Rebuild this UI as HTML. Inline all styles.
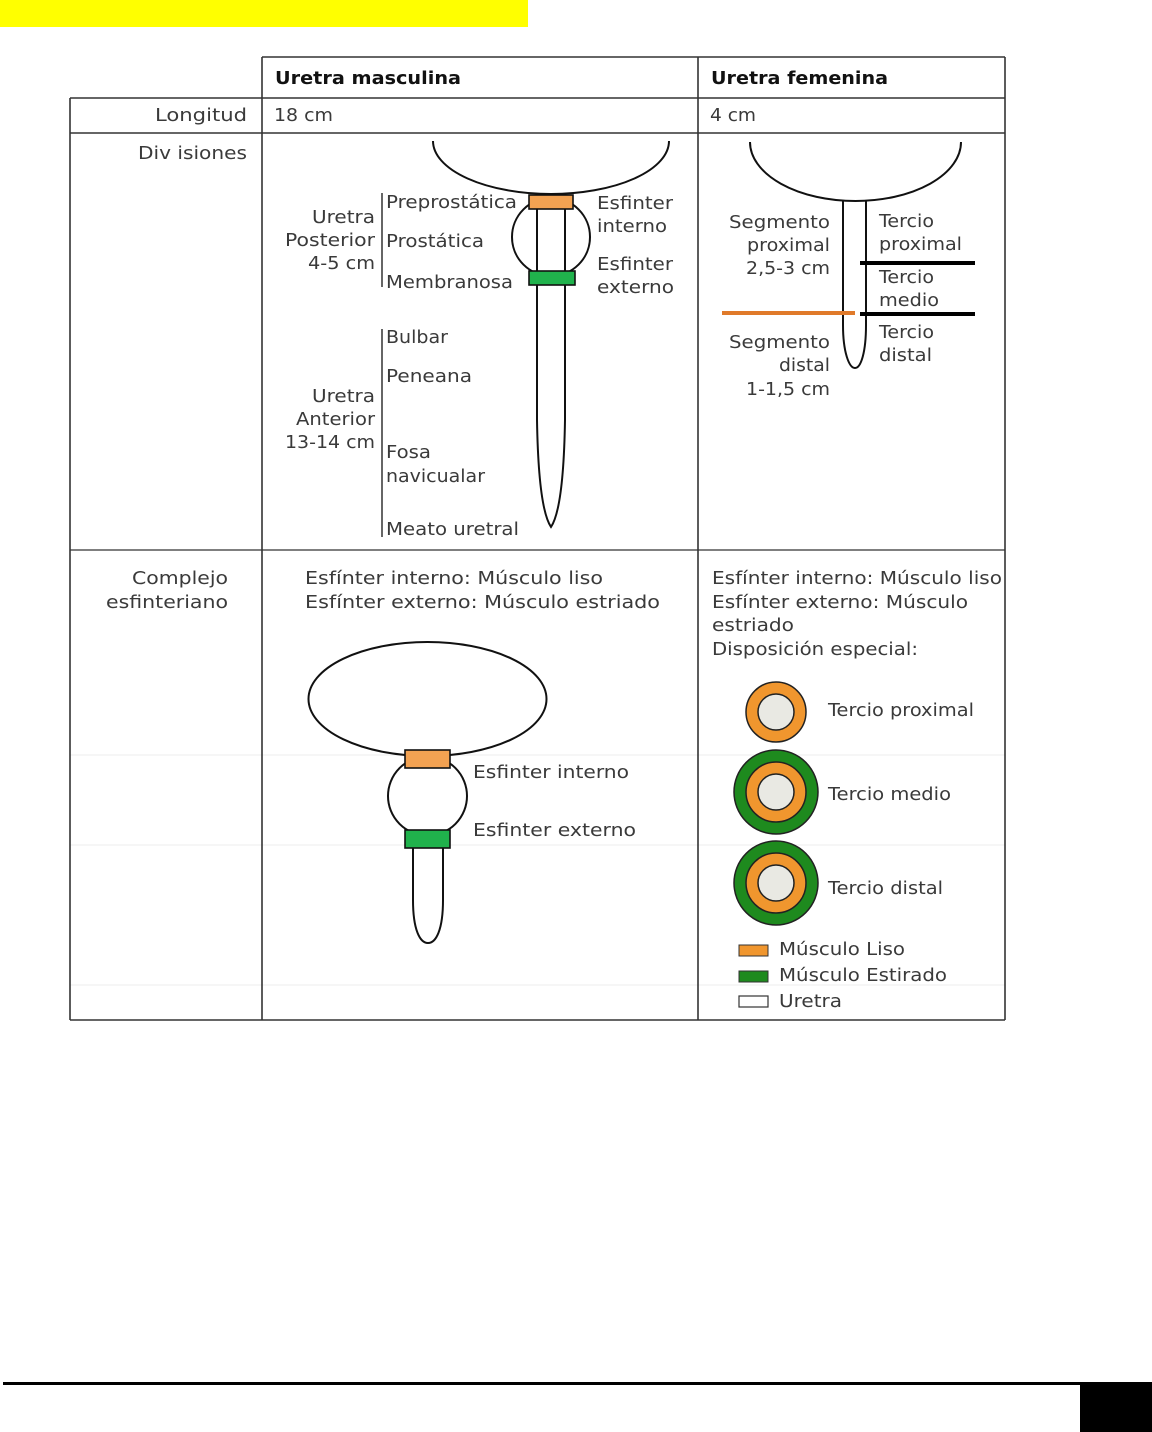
<!DOCTYPE html>
<html>
<head>
<meta charset="utf-8">
<style>
html,body{margin:0;padding:0;background:#fff;}
body{width:1152px;height:1432px;overflow:hidden;position:relative;}
svg{position:absolute;left:0;top:0;}
text{font-family:"DejaVu Sans","Liberation Sans",sans-serif;font-size:18px;fill:#3a3a3a;}
.b{font-weight:bold;fill:#111;}
</style>
</head>
<body>
<svg width="1152" height="1432" viewBox="0 0 1152 1432" xmlns="http://www.w3.org/2000/svg">
  <!-- yellow bar -->
  <rect x="0" y="0" width="528" height="27" fill="#ffff00"/>

  <!-- faint artifact lines -->
  <g stroke="#f3f3f3" stroke-width="1.5">
    <line x1="70" y1="755" x2="1005" y2="755"/>
    <line x1="70" y1="845" x2="1005" y2="845"/>
    <line x1="70" y1="985" x2="1005" y2="985"/>
  </g>

  <!-- table lines -->
  <g stroke="#333" stroke-width="1.6" fill="none">
    <line x1="262" y1="57" x2="1005" y2="57"/>
    <line x1="70" y1="98" x2="1005" y2="98"/>
    <line x1="70" y1="133" x2="1005" y2="133"/>
    <line x1="70" y1="550" x2="1005" y2="550" stroke="#555"/>
    <line x1="70" y1="1020" x2="1005" y2="1020"/>
    <line x1="70" y1="98" x2="70" y2="1020"/>
    <line x1="262" y1="57" x2="262" y2="1020"/>
    <line x1="698" y1="57" x2="698" y2="1020"/>
    <line x1="1005" y1="57" x2="1005" y2="1020"/>
  </g>

  <!-- headers -->
  <text class="b" x="275" y="84" textLength="186" lengthAdjust="spacingAndGlyphs">Uretra masculina</text>
  <text class="b" x="711" y="84" textLength="177" lengthAdjust="spacingAndGlyphs">Uretra femenina</text>
  <text x="155" y="121" textLength="92" lengthAdjust="spacingAndGlyphs">Longitud</text>
  <text x="274" y="121" textLength="59" lengthAdjust="spacingAndGlyphs">18 cm</text>
  <text x="710" y="121" textLength="46" lengthAdjust="spacingAndGlyphs">4 cm</text>
  <text x="138" y="159" textLength="109" lengthAdjust="spacingAndGlyphs">Div isiones</text>

  <!-- MALE DIVISIONS DIAGRAM -->
  <g stroke="#111" stroke-width="2" fill="none">
    <path d="M433,141 A118,53 0 0 0 669,141"/>
    <circle cx="551" cy="237" r="39" fill="#fff"/>
    <line x1="537" y1="209" x2="537" y2="271"/>
    <line x1="565" y1="209" x2="565" y2="271"/>
    <path d="M537,285 L537,420 C538,480 543,515 551,527 C559,515 564,480 565,420 L565,285" fill="#fff"/>
  </g>
  <rect x="529" y="195" width="44" height="14" fill="#f3a252" stroke="#111" stroke-width="1.6"/>
  <rect x="529" y="271" width="46" height="14" fill="#20b24c" stroke="#111" stroke-width="1.6"/>
  <g stroke="#333" stroke-width="1.5">
    <line x1="382" y1="193" x2="382" y2="287"/>
    <line x1="382" y1="329" x2="382" y2="537"/>
  </g>
  <text x="386" y="208" textLength="131" lengthAdjust="spacingAndGlyphs">Preprostática</text>
  <text x="386" y="247" textLength="98" lengthAdjust="spacingAndGlyphs">Prostática</text>
  <text x="386" y="288" textLength="127" lengthAdjust="spacingAndGlyphs">Membranosa</text>
  <text x="312" y="223" textLength="63" lengthAdjust="spacingAndGlyphs">Uretra</text>
  <text x="285" y="246" textLength="90" lengthAdjust="spacingAndGlyphs">Posterior</text>
  <text x="308" y="269" textLength="67" lengthAdjust="spacingAndGlyphs">4-5 cm</text>
  <text x="597" y="209" textLength="76" lengthAdjust="spacingAndGlyphs">Esfinter</text>
  <text x="597" y="232" textLength="70" lengthAdjust="spacingAndGlyphs">interno</text>
  <text x="597" y="270" textLength="76" lengthAdjust="spacingAndGlyphs">Esfinter</text>
  <text x="597" y="293" textLength="77" lengthAdjust="spacingAndGlyphs">externo</text>
  <text x="386" y="343" textLength="62" lengthAdjust="spacingAndGlyphs">Bulbar</text>
  <text x="386" y="382" textLength="86" lengthAdjust="spacingAndGlyphs">Peneana</text>
  <text x="312" y="402" textLength="63" lengthAdjust="spacingAndGlyphs">Uretra</text>
  <text x="296" y="425" textLength="79" lengthAdjust="spacingAndGlyphs">Anterior</text>
  <text x="285" y="448" textLength="90" lengthAdjust="spacingAndGlyphs">13-14 cm</text>
  <text x="386" y="458" textLength="45" lengthAdjust="spacingAndGlyphs">Fosa</text>
  <text x="386" y="482" textLength="99" lengthAdjust="spacingAndGlyphs">navicualar</text>
  <text x="386" y="535" textLength="133" lengthAdjust="spacingAndGlyphs">Meato uretral</text>

  <!-- FEMALE DIVISIONS DIAGRAM -->
  <g stroke="#111" stroke-width="2" fill="none">
    <path d="M750,142 A105.5,59 0 0 0 961,142"/>
    <path d="M843,200 L843,325 C843,352 849,368 855,368 C861,368 866,352 866,325 L866,200"/>
  </g>
  <line x1="860" y1="263" x2="975" y2="263" stroke="#000" stroke-width="4"/>
  <line x1="860" y1="314" x2="975" y2="314" stroke="#000" stroke-width="4"/>
  <line x1="722" y1="313" x2="855" y2="313" stroke="#e07a2a" stroke-width="4"/>
  <text x="729" y="228" textLength="101" lengthAdjust="spacingAndGlyphs">Segmento</text>
  <text x="747" y="251" textLength="83" lengthAdjust="spacingAndGlyphs">proximal</text>
  <text x="746" y="274" textLength="84" lengthAdjust="spacingAndGlyphs">2,5-3 cm</text>
  <text x="729" y="348" textLength="101" lengthAdjust="spacingAndGlyphs">Segmento</text>
  <text x="779" y="371" textLength="51" lengthAdjust="spacingAndGlyphs">distal</text>
  <text x="746" y="395" textLength="84" lengthAdjust="spacingAndGlyphs">1-1,5 cm</text>
  <text x="879" y="227" textLength="55" lengthAdjust="spacingAndGlyphs">Tercio</text>
  <text x="879" y="250" textLength="83" lengthAdjust="spacingAndGlyphs">proximal</text>
  <text x="879" y="283" textLength="55" lengthAdjust="spacingAndGlyphs">Tercio</text>
  <text x="879" y="306" textLength="60" lengthAdjust="spacingAndGlyphs">medio</text>
  <text x="879" y="338" textLength="55" lengthAdjust="spacingAndGlyphs">Tercio</text>
  <text x="879" y="361" textLength="53" lengthAdjust="spacingAndGlyphs">distal</text>

  <!-- COMPLEJO ROW -->
  <text x="132" y="584" textLength="96" lengthAdjust="spacingAndGlyphs">Complejo</text>
  <text x="106" y="608" textLength="122" lengthAdjust="spacingAndGlyphs">esfinteriano</text>
  <text x="305" y="584" textLength="298" lengthAdjust="spacingAndGlyphs">Esfínter interno: Músculo liso</text>
  <text x="305" y="608" textLength="355" lengthAdjust="spacingAndGlyphs">Esfínter externo: Músculo estriado</text>

  <!-- male complejo diagram -->
  <g stroke="#111" stroke-width="2" fill="#fff">
    <ellipse cx="427.5" cy="699" rx="119" ry="57"/>
    <circle cx="427.5" cy="796" r="39.5"/>
    <path d="M413,848 L413,900 C413,930 420,943 428,943 C436,943 443,930 443,900 L443,848"/>
  </g>
  <rect x="405" y="750" width="45" height="18" fill="#f3a252" stroke="#111" stroke-width="1.6"/>
  <rect x="405" y="830" width="45" height="18" fill="#20b24c" stroke="#111" stroke-width="1.6"/>
  <text x="473" y="778" textLength="156" lengthAdjust="spacingAndGlyphs">Esfinter interno</text>
  <text x="473" y="836" textLength="163" lengthAdjust="spacingAndGlyphs">Esfinter externo</text>

  <!-- female complejo -->
  <text x="712" y="584" textLength="290" lengthAdjust="spacingAndGlyphs">Esfínter interno: Músculo liso</text>
  <text x="712" y="608" textLength="256" lengthAdjust="spacingAndGlyphs">Esfínter externo: Músculo</text>
  <text x="712" y="631" textLength="82" lengthAdjust="spacingAndGlyphs">estriado</text>
  <text x="712" y="655" textLength="206" lengthAdjust="spacingAndGlyphs">Disposición especial:</text>

  <g stroke="#222" stroke-width="1.5">
    <circle cx="776" cy="712" r="30" fill="#f0962e"/>
    <circle cx="776" cy="712" r="18" fill="#e9e9e3"/>
    <circle cx="776" cy="792" r="42" fill="#1e8a1e"/>
    <circle cx="776" cy="792" r="30" fill="#f0962e"/>
    <circle cx="776" cy="792" r="18" fill="#e9e9e3"/>
    <circle cx="776" cy="883" r="42" fill="#1e8a1e"/>
    <circle cx="776" cy="883" r="30" fill="#f0962e"/>
    <circle cx="776" cy="883" r="18" fill="#e9e9e3"/>
  </g>
  <text x="828" y="716" textLength="146" lengthAdjust="spacingAndGlyphs">Tercio proximal</text>
  <text x="828" y="800" textLength="123" lengthAdjust="spacingAndGlyphs">Tercio medio</text>
  <text x="828" y="894" textLength="115" lengthAdjust="spacingAndGlyphs">Tercio distal</text>

  <rect x="739" y="945" width="29" height="11" fill="#f0962e" stroke="#333" stroke-width="1"/>
  <rect x="739" y="971" width="29" height="11" fill="#1e8a1e" stroke="#333" stroke-width="1"/>
  <rect x="739" y="996" width="29" height="11" fill="#fff" stroke="#333" stroke-width="1.2"/>
  <text x="779" y="955" textLength="126" lengthAdjust="spacingAndGlyphs">Músculo Liso</text>
  <text x="779" y="981" textLength="168" lengthAdjust="spacingAndGlyphs">Músculo Estirado</text>
  <text x="779" y="1007" textLength="63" lengthAdjust="spacingAndGlyphs">Uretra</text>

  <!-- footer -->
  <rect x="3" y="1382" width="1149" height="3" fill="#000"/>
  <rect x="1080" y="1385" width="72" height="47" fill="#000"/>
</svg>
</body>
</html>
